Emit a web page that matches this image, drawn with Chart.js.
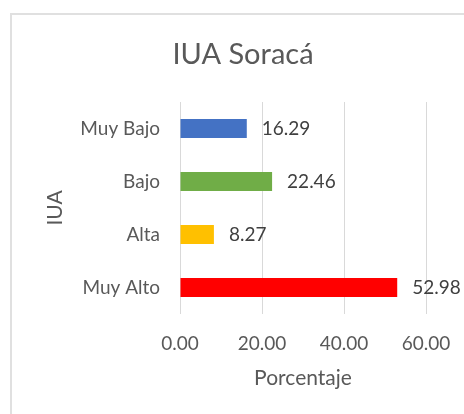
<!DOCTYPE html>
<html>
<head>
<meta charset="utf-8">
<script src="https://cdn.jsdelivr.net/npm/chart.js@4"></script>
<style>
  html, body { margin: 0; padding: 0; background: #ffffff; overflow: hidden; }
  #wrap { position: relative; width: 464px; height: 414px; overflow: hidden; }
  #frame { position: absolute; left: 10px; top: 13px; width: 500px; height: 500px; border: 2px solid #e0e0e0; box-sizing: border-box; }
  #chart { position: absolute; left: 0; top: 0; }
</style>
</head>
<body>
<div id="wrap">
  <div id="frame"></div>
  <canvas id="chart" width="464" height="414"></canvas>
</div>
<script>
// datos del grafico
const categorias = ['Muy Bajo', 'Bajo', 'Alta', 'Muy Alto'];
const porcentajes = [16.29, 22.46, 8.27, 52.98];
const colores = ['#4472C4', '#70AD47', '#FFC000', '#FF0000'];
const ticksX = [0, 20, 40, 60];
const titulo = 'IUA Soracá';

const FONT = 'Lato, "Open Sans", sans-serif';
const GRIS = '#595959';

// titulo centrado sobre el marco completo (que sigue fuera del recorte)
const tituloPlugin = {
    id: 'tituloMarco',
    afterDraw(chart) {
        const ctx = chart.ctx;
        ctx.save();
        ctx.font = '29px ' + FONT;
        ctx.fillStyle = GRIS;
        ctx.textAlign = 'center';
        ctx.textBaseline = 'middle';
        ctx.fillText(titulo, 243, 55);
        ctx.restore();
    }
};

// etiquetas de valor al final de cada barra
const etiquetasPlugin = {
    id: 'etiquetas',
    afterDatasetsDraw(chart) {
        const ctx = chart.ctx;
        const meta = chart.getDatasetMeta(0);
        ctx.save();
        ctx.font = '19px ' + FONT;
        ctx.fillStyle = '#404040';
        ctx.textAlign = 'left';
        ctx.textBaseline = 'middle';
        meta.data.forEach(function(bar, i) {
            ctx.fillText(porcentajes[i].toFixed(2), bar.x + 15, bar.y);
        });
        ctx.restore();
    }
};

new Chart(document.getElementById('chart'), {
    type: 'bar',
    data: {
        labels: categorias,
        datasets: [{
            data: porcentajes,
            backgroundColor: colores,
            borderWidth: 0,
            barPercentage: 0.36,
            categoryPercentage: 1
        }]
    },
    options: {
        indexAxis: 'y',
        responsive: false,
        animation: false,
        layout: {
            padding: { left: 43, right: 38, top: 102, bottom: 23 }
        },
        plugins: {
            legend: { display: false },
            tooltip: { enabled: false },
            title: { display: false }
        },
        scales: {
            x: {
                min: 0,
                max: 60,
                afterBuildTicks: function(scale) {
                    scale.ticks = ticksX.map(v => ({ value: v }));
                },
                afterFit: function(scale) {
                    scale.height = 77;
                    scale.paddingLeft = 0;
                    scale.paddingRight = 0;
                },
                grid: { color: '#d9d9d9', lineWidth: 1, drawTicks: false },
                border: { display: false },
                ticks: {
                    color: GRIS,
                    padding: 18,
                    font: { family: FONT, size: 19 },
                    callback: function(value) { return Number(value).toFixed(2); }
                },
                title: {
                    display: true,
                    text: 'Porcentaje',
                    color: GRIS,
                    padding: 0,
                    font: { family: FONT, size: 21 }
                }
            },
            y: {
                afterFit: function(scale) {
                    scale.width = 137;
                    scale.paddingTop = 0;
                    scale.paddingBottom = 0;
                },
                grid: { display: false, drawTicks: false },
                border: { display: false },
                ticks: {
                    color: GRIS,
                    padding: 20,
                    font: { family: FONT, size: 19 }
                },
                title: {
                    display: true,
                    text: 'IUA',
                    color: GRIS,
                    padding: 0,
                    font: { family: FONT, size: 21 }
                }
            }
        }
    },
    plugins: [etiquetasPlugin, tituloPlugin]
});
</script>
</body>
</html>
